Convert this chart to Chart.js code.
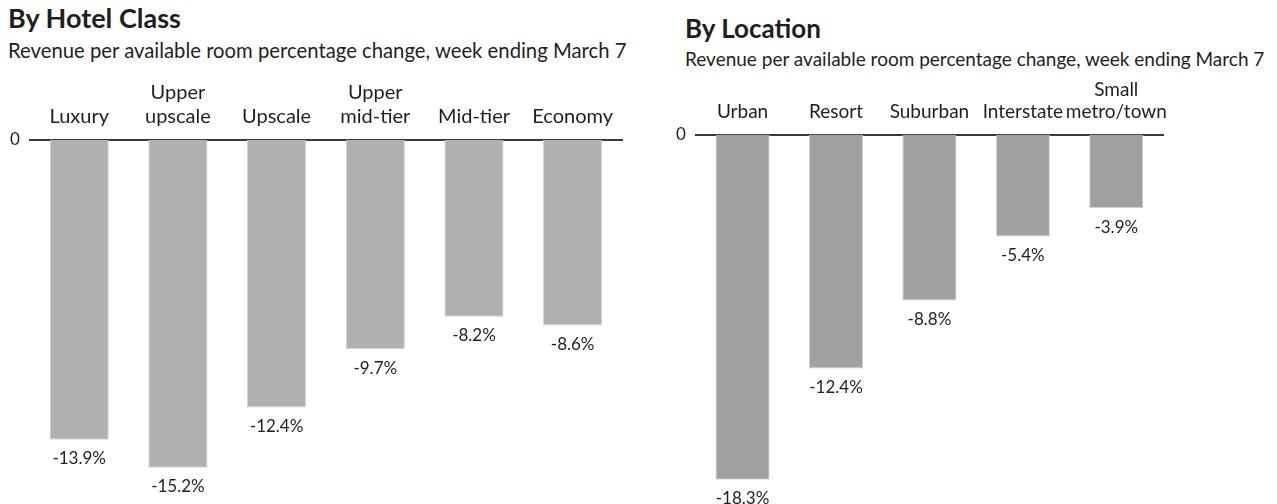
<!DOCTYPE html>
<html>
<head>
<meta charset="utf-8">
<script src="https://cdn.jsdelivr.net/npm/chart.js@4.4.1/dist/chart.umd.min.js"></script>
<style>
  html, body { margin: 0; padding: 0; background: #ffffff; }
  body { width: 1277px; height: 504px; position: relative; overflow: hidden; font-family: Lato, "Open Sans", sans-serif; color: #1f1f1f; }
  .title { position: absolute; font-weight: 700; font-size: 27px; line-height: 32px; white-space: nowrap; }
  .sub { position: absolute; font-size: 20.3px; line-height: 24px; white-space: nowrap; }
  canvas { position: absolute; }
</style>
</head>
<body>
<div class="title" style="left:8px;top:2px;">By Hotel Class</div>
<div class="sub" style="left:8px;top:38px;">Revenue per available room percentage change, week ending March 7</div>
<div class="title" style="left:685px;top:12px;font-size:26px;">By Location</div>
<div class="sub" style="left:685px;top:47px;font-size:19px;">Revenue per available room percentage change, week ending March 7</div>
<canvas id="c1" width="640" height="470" style="left:0px;top:60px;"></canvas>
<canvas id="c2" width="617" height="470" style="left:660px;top:60px;"></canvas>
<script>
const hotelClasses = ["Luxury", ["Upper", "upscale"], "Upscale", ["Upper", "mid-tier"], "Mid-tier", "Economy"];
const hotelValues = [-13.9, -15.2, -12.4, -9.7, -8.2, -8.6];
const locations = ["Urban", "Resort", "Suburban", "Interstate", ["Small", "metro/town"]];
const locationValues = [-18.3, -12.4, -8.8, -5.4, -3.9];
const zeroTick = [0];

const FONT = 'Lato, "Open Sans", sans-serif';
const TEXT = '#1f1f1f';

const valueLabels = {
  id: 'valueLabels',
  afterDatasetsDraw(chart) {
    const ctx = chart.ctx;
    const ds = chart.data.datasets[0];
    const meta = chart.getDatasetMeta(0);
    ctx.save();
    ctx.font = '17px ' + FONT;
    ctx.fillStyle = TEXT;
    ctx.textAlign = 'center';
    ctx.textBaseline = 'middle';
    meta.data.forEach((bar, i) => {
      const v = ds.data[i];
      ctx.fillText(v.toFixed(1) + '%', bar.x, bar.y + 19);
    });
    ctx.restore();
  }
};

function makeChart(id, labels, values, color, yMin, pad, catFont, catPad, barPct) {
  return new Chart(document.getElementById(id), {
    type: 'bar',
    data: {
      labels: labels,
      datasets: [{
        data: values,
        backgroundColor: color,
        borderColor: '#d4d4d4',
        borderWidth: 1,
        borderSkipped: 'start',
        categoryPercentage: 1,
        barPercentage: barPct
      }]
    },
    options: {
      responsive: false,
      animation: false,
      devicePixelRatio: 1,
      layout: { padding: pad },
      plugins: { legend: { display: false }, tooltip: { enabled: false }, title: { display: false } },
      scales: {
        x: {
          position: 'top',
          grid: { display: false, drawTicks: false },
          border: { display: true, color: '#3a3a3a', width: 2 },
          ticks: { color: TEXT, font: { family: FONT, size: catFont, lineHeight: 1.2 }, padding: catPad, maxRotation: 0, autoSkip: false }
        },
        y: {
          min: yMin,
          max: 0,
          grid: { display: false, drawTicks: false },
          border: { display: false },
          afterBuildTicks: (scale) => { scale.ticks = zeroTick.map(v => ({ value: v })); },
          ticks: { color: TEXT, font: { family: FONT, size: 17 }, padding: 10, callback: (v) => String(v) }
        }
      }
    },
    plugins: [valueLabels]
  });
}

makeChart('c1', hotelClasses, hotelValues, '#b0b0b0', -16, { top: 10, bottom: 45, left: 0, right: 18 }, 20, 11, 0.6);
makeChart('c2', locations, locationValues, '#a0a0a0', -19, { top: 7, bottom: 37, left: 6, right: 114 }, 19, 11, 0.58);
</script>
</body>
</html>
